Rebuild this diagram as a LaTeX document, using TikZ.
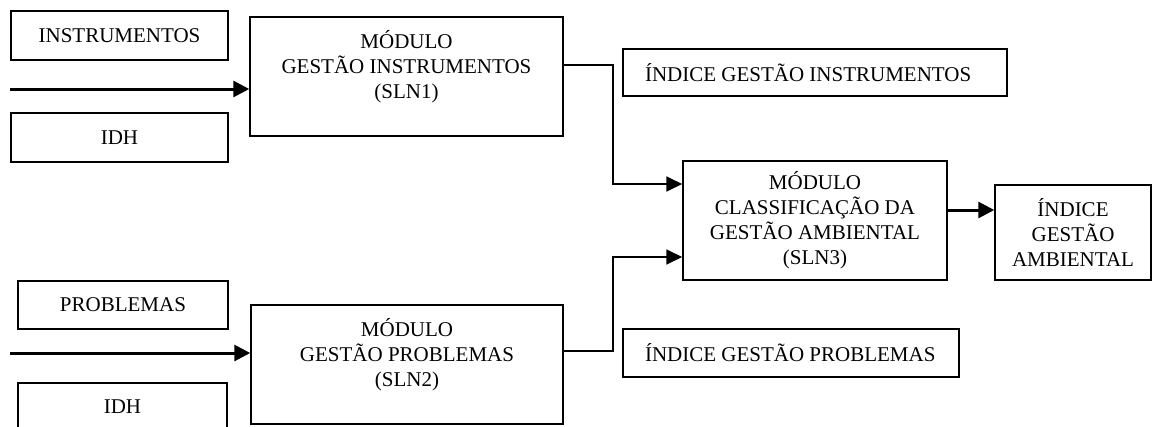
\documentclass[tikz,border=0pt]{standalone}
\usepackage{fontspec}
\setmainfont{Liberation Serif}
\usetikzlibrary{arrows.meta}
\begin{document}
\begin{tikzpicture}[x=1pt,y=-1pt]
\tikzset{
  box/.style={draw, line width=1.5pt, inner sep=0pt, font=\fontsize{21}{25}\selectfont, align=center},
  conn/.style={line width=1.8pt, -{Triangle[length=16pt,width=15pt]}},
  thickarrow/.style={line width=3pt, -{Triangle[length=16pt,width=16pt]}},
}
\useasboundingbox (0,0) rectangle (1153,426);
\clip (0,0) rectangle (1153,426);
% left input boxes
\node[box, minimum width=217pt, minimum height=49pt] (instr) at (119.5,35.5) {INSTRUMENTOS};
\node[box, minimum width=217pt, minimum height=49pt] (idh1) at (119.5,137.5) {IDH};
\node[box, minimum width=210pt, minimum height=48pt] (prob) at (123,305) {PROBLEMAS};
\node[box, minimum width=209pt, minimum height=48pt] (idh2) at (122.5,407) {IDH};
% modules
\node[box, minimum width=313pt, minimum height=119pt] (m1) at (406.5,76.5) {MÓDULO\\GESTÃO INSTRUMENTOS\\(SLN1)\\\mbox{}};
\node[box, minimum width=312pt, minimum height=119pt] (m2) at (407,364.5) {MÓDULO\\GESTÃO PROBLEMAS\\(SLN2)\\\mbox{}};
\node[box, minimum width=264pt, minimum height=119pt] (m3) at (815,220.5) {MÓDULO\\CLASSIFICAÇÃO DA\\GESTÃO AMBIENTAL\\(SLN3)};
\node[box, minimum width=156pt, minimum height=95pt] (iamb) at (1073,232.5) {ÍNDICE\\GESTÃO\\AMBIENTAL};
% index boxes
\node[box, minimum width=384pt, minimum height=47pt] (iinstr) at (815,72.5) {\makebox[340pt][l]{ÍNDICE GESTÃO INSTRUMENTOS}};
\node[box, minimum width=336pt, minimum height=48pt] (iprob) at (791,353) {\makebox[292pt][l]{ÍNDICE GESTÃO PROBLEMAS}};
% input arrows
\coordinate (in1) at (10,89);
\coordinate (in2) at (10,353);
\draw[thickarrow] (in1) -- (in1 -| m1.west);
\draw[thickarrow] (in2) -- (in2 -| m2.west);
% connectors to classification module
\draw[conn] ([yshift=11.5pt]m1.east) -- ++(49,0) |- ([yshift=36.5pt]m3.west);
\draw[conn] ([yshift=13.5pt]m2.east) -- ++(49,0) |- ([yshift=-36.5pt]m3.west);
% output arrow
\draw[thickarrow] ([yshift=10.5pt]m3.east) -- ([yshift=10.5pt]m3.east -| iamb.west);
\end{tikzpicture}
\end{document}
